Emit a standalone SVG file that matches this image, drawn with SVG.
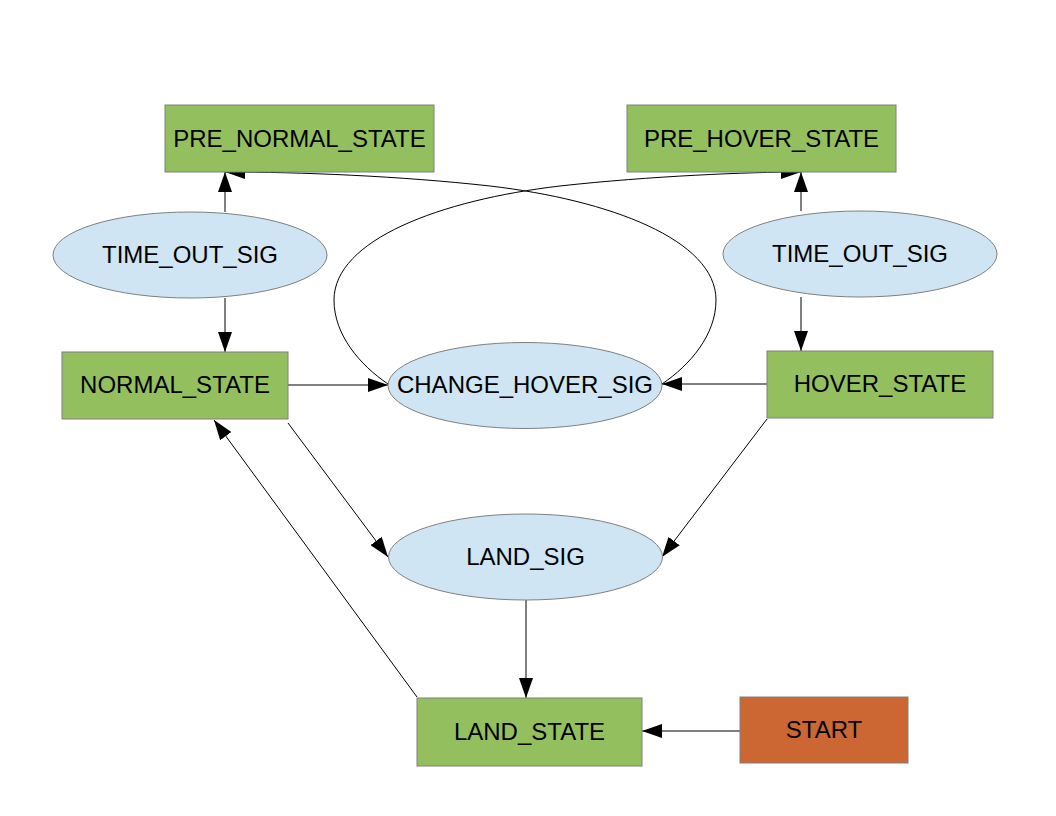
<svg xmlns="http://www.w3.org/2000/svg" width="1056" height="816" viewBox="0 0 1056 816">
<defs>
<marker id="arr" viewBox="0 0 20 14" refX="20" refY="7" markerWidth="20" markerHeight="14" markerUnits="userSpaceOnUse" orient="auto">
<path d="M0,0 L20,7 L0,14 Z" fill="#000"/>
</marker>
<style>
.st{fill:#94bf5f;stroke:#808080;stroke-width:1}
.sg{fill:#cfe5f3;stroke:#808080;stroke-width:1}
.sr{fill:#cc6633;stroke:#808080;stroke-width:1}
text{font-family:"Liberation Sans",Arial,sans-serif;font-size:24px;fill:#000;text-anchor:middle}
.c{fill:none;stroke:#000;stroke-width:1;marker-end:url(#arr)}
</style>
</defs>
<rect width="1056" height="816" fill="#fff"/>
<g id="connectors">
<line class="c" x1="225" y1="212" x2="225" y2="172"/>
<line class="c" x1="225" y1="298" x2="225" y2="352"/>
<line class="c" x1="801" y1="211" x2="801" y2="172"/>
<line class="c" x1="801" y1="297" x2="801" y2="351"/>
<line class="c" x1="288" y1="385" x2="388" y2="385"/>
<line class="c" x1="767" y1="384" x2="662" y2="384"/>
<path class="c" d="M388,384 C360,365 334,335 334,300 C334,240 440,200 560,186 C650,176 750,172 801,172"/>
<path class="c" d="M662,384 C690,365 716,335 716,300 C716,240 610,200 490,186 C400,176 300,172 225,172"/>
<line class="c" x1="288" y1="423" x2="388" y2="557"/>
<line class="c" x1="767" y1="419" x2="662" y2="557"/>
<line class="c" x1="417" y1="697" x2="214" y2="420"/>
<line class="c" x1="526" y1="600" x2="526" y2="698"/>
<line class="c" x1="740" y1="731" x2="642" y2="731"/>
</g>
<g id="pre_normal_state"><rect class="st" x="165" y="105" width="269" height="67"/><text x="299.5" y="147">PRE_NORMAL_STATE</text></g>
<g id="pre_hover_state"><rect class="st" x="627" y="105" width="269" height="67"/><text x="761.5" y="147">PRE_HOVER_STATE</text></g>
<g id="time_out_sig_left"><ellipse class="sg" cx="190" cy="255" rx="137" ry="43"/><text x="190" y="263">TIME_OUT_SIG</text></g>
<g id="time_out_sig_right"><ellipse class="sg" cx="860" cy="254" rx="137" ry="43"/><text x="860" y="262">TIME_OUT_SIG</text></g>
<g id="normal_state"><rect class="st" x="62" y="352" width="226" height="67"/><text x="175" y="393">NORMAL_STATE</text></g>
<g id="change_hover_sig"><ellipse class="sg" cx="525" cy="385.5" rx="137" ry="43"/><text x="525" y="393">CHANGE_HOVER_SIG</text></g>
<g id="hover_state"><rect class="st" x="767" y="351" width="226" height="67"/><text x="880" y="392">HOVER_STATE</text></g>
<g id="land_sig"><ellipse class="sg" cx="525.5" cy="557" rx="137" ry="43"/><text x="525.5" y="565">LAND_SIG</text></g>
<g id="land_state"><rect class="st" x="417" y="698" width="225" height="68"/><text x="529.5" y="740">LAND_STATE</text></g>
<g id="start"><rect class="sr" x="740" y="697" width="168" height="66"/><text x="824" y="738">START</text></g>
</svg>
